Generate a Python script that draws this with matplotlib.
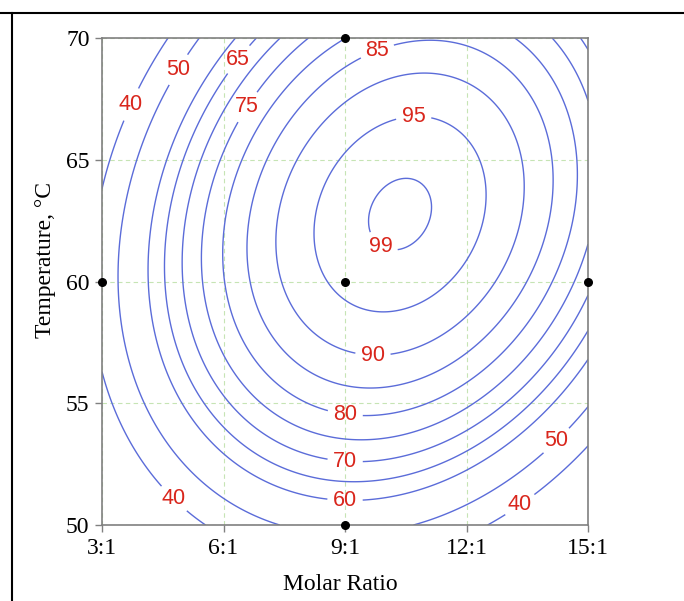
import numpy as np
import matplotlib
matplotlib.use("Agg")
import matplotlib.pyplot as plt
from matplotlib.lines import Line2D

# Fitted response surface, coded variables:
# X1 = (ratio - 9) / 6, X2 = (T - 60) / 10
b0 = 96.2
b1, b2 = 13.7, 13.5
b12 = 13.2
b11, b22 = -38.3, -29.8

levels = [40, 50, 60, 65, 70, 75, 80, 85, 90, 95, 99]

# design points shown as black dots
design_ratio = [9, 3, 9, 15, 9]
design_temp = [70, 60, 60, 60, 50]

xticks = [3, 6, 9, 12, 15]
xticklabels = ["3:1", "6:1", "9:1", "12:1", "15:1"]
yticks = [50, 55, 60, 65, 70]

# where the contour labels sit (data coords)
label_pos = [(3.81, 67.2), (4.98, 68.6), (6.46, 69.0), (6.65, 67.1),
             (9.81, 69.4), (10.7, 66.6), (9.86, 61.4), (9.69, 57.0),
             (9.0, 54.5), (9.0, 52.55), (9.0, 51.0), (4.73, 51.0),
             (13.25, 51.0), (14.14, 53.6)]

ratio = np.linspace(3, 15, 241)
temp = np.linspace(50, 70, 241)
R, T = np.meshgrid(ratio, temp)
X1 = (R - 9) / 6
X2 = (T - 60) / 10
Y = b0 + b1 * X1 + b2 * X2 + b12 * X1 * X2 + b11 * X1**2 + b22 * X2**2

fig = plt.figure(figsize=(6.84, 6.01), dpi=100)
ax = fig.add_axes([102 / 684, 76 / 601, 486 / 684, 487 / 601])

cs = ax.contour(R, T, Y, levels=levels, colors="#5b6cd9", linewidths=1.0)
labels = ax.clabel(cs, fmt="%d", fontsize=15.5, colors="#d9261c",
                   inline=True, inline_spacing=4, manual=label_pos)
for t in labels:
    t.set_family("Liberation Sans")
    t.set_rotation(0)

ax.scatter(design_ratio, design_temp, s=30, color="black", zorder=5,
           clip_on=False)

ax.set_xlim(3, 15)
ax.set_ylim(50, 70)
ax.set_xticks(xticks)
ax.set_xticklabels(xticklabels)
ax.set_yticks(yticks)
ax.grid(True, color="#c6e4b4", linestyle=(0, (4, 3)), linewidth=0.8)
ax.set_axisbelow(True)

for sp in ax.spines.values():
    sp.set_color("#808080")
    sp.set_linewidth(1.2)
ax.tick_params(direction="out", length=5, width=1, color="#808080",
               labelsize=17, pad=4)
for lab in ax.get_xticklabels() + ax.get_yticklabels():
    lab.set_family("Liberation Serif")

ax.set_xlabel("Molar Ratio", family="Liberation Serif", fontsize=17)
ax.set_ylabel("Temperature, \u00b0C", family="Liberation Serif", fontsize=17)
ax.xaxis.set_label_coords(0.49, -0.1)
ax.yaxis.set_label_coords(-0.095, 0.544)

# page frame lines from the source document
fig.add_artist(Line2D([0, 1], [1 - 13 / 601, 1 - 13 / 601],
                      transform=fig.transFigure, color="black", lw=1.5))
fig.add_artist(Line2D([12 / 684, 12 / 684], [0, 1 - 13 / 601],
                      transform=fig.transFigure, color="black", lw=1.5))

fig.savefig("out.png", dpi=100)
